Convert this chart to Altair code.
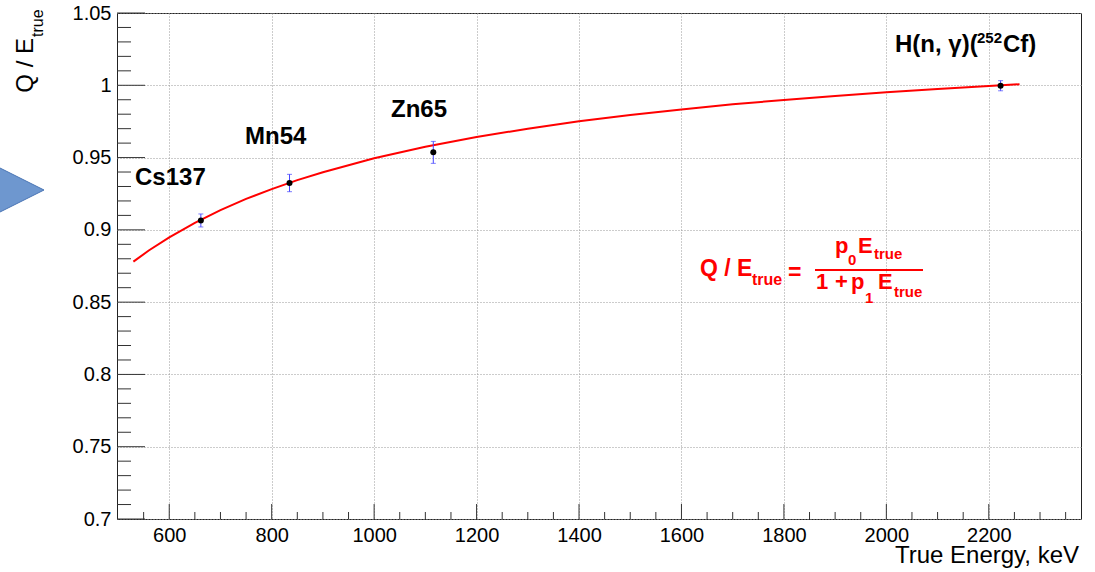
import altair as alt
import pandas as pd

# ---- data ----
point_names = ["Cs137", "Mn54", "Zn65", "H(n, γ)(252Cf)"]
point_energy = [661.7, 834.8, 1115.5, 2223.0]
point_value = [0.9065, 0.9324, 0.9536, 0.9997]
point_error = [0.0045, 0.0060, 0.0076, 0.0035]

curve_energy = [530, 560, 600, 650, 700, 750, 800, 850, 900, 1000, 1100, 1200,
                1300, 1400, 1500, 1600, 1700, 1800, 1900, 2000, 2100, 2200, 2260]
curve_value = [0.878, 0.8857, 0.8948, 0.9048, 0.9136, 0.9214, 0.9282, 0.9344,
               0.9399, 0.9495, 0.9575, 0.9642, 0.9700, 0.9751, 0.9795, 0.9833,
               0.9868, 0.9899, 0.9926, 0.9951, 0.9974, 0.9995, 1.0007]

x_major = [600, 800, 1000, 1200, 1400, 1600, 1800, 2000, 2200]
x_minor = [550, 650, 700, 750, 850, 900, 950, 1050, 1100, 1150, 1250, 1300, 1350,
           1450, 1500, 1550, 1650, 1700, 1750, 1850, 1900, 1950, 2050, 2100, 2150,
           2250, 2300, 2350]
y_major = [0.70, 0.75, 0.80, 0.85, 0.90, 0.95, 1.00, 1.05]
y_minor = [0.71, 0.72, 0.73, 0.74, 0.76, 0.77, 0.78, 0.79, 0.81, 0.82, 0.83, 0.84,
           0.86, 0.87, 0.88, 0.89, 0.91, 0.92, 0.93, 0.94, 0.96, 0.97, 0.98, 0.99,
           1.01, 1.02, 1.03, 1.04]

X_DOMAIN = [498, 2380]
Y_DOMAIN = [0.70, 1.05]
W, H = 964, 506
FONT = "Liberation Sans"
RED = "#ff0000"

xs = alt.Scale(domain=X_DOMAIN, nice=False, zero=False)
ys = alt.Scale(domain=Y_DOMAIN, nice=False, zero=False)

curve_df = pd.DataFrame({"E": curve_energy, "v": curve_value})
pts_df = pd.DataFrame({
    "name": point_names, "E": point_energy, "v": point_value,
    "lo": [v - e for v, e in zip(point_value, point_error)],
    "hi": [v + e for v, e in zip(point_value, point_error)],
})

curve = alt.Chart(curve_df).mark_line(color=RED, strokeWidth=2).encode(
    x=alt.X("E:Q", scale=xs, axis=alt.Axis(
        values=x_major, title=None, ticks=False, domain=False, format="d",
        labelFont=FONT, labelFontSize=20, labelColor="black", labelPadding=6,
        grid=True, gridDash=[1, 2], gridColor="#999999", gridWidth=1)),
    y=alt.Y("v:Q", scale=ys, axis=alt.Axis(
        values=y_major, title=None, ticks=False, domain=False,
        labelFont=FONT, labelFontSize=20, labelColor="black", labelPadding=6,
        labelExpr="datum.value == 1 ? '1' : format(datum.value, '.2~f')",
        grid=True, gridDash=[1, 2], gridColor="#999999", gridWidth=1)),
)

err = alt.Chart(pts_df).mark_rule(color="#4444ff", strokeWidth=1).encode(
    x=alt.X("E:Q", scale=xs), y=alt.Y("lo:Q", scale=ys), y2="hi:Q")
cap_lo = alt.Chart(pts_df).mark_tick(color="#4444ff", orient="horizontal", size=5, thickness=1).encode(
    x=alt.X("E:Q", scale=xs), y=alt.Y("lo:Q", scale=ys))
cap_hi = alt.Chart(pts_df).mark_tick(color="#4444ff", orient="horizontal", size=5, thickness=1).encode(
    x=alt.X("E:Q", scale=xs), y=alt.Y("hi:Q", scale=ys))
dots = alt.Chart(pts_df).mark_circle(color="black", size=36, opacity=1).encode(
    x=alt.X("E:Q", scale=xs), y=alt.Y("v:Q", scale=ys))

# inward ticks
def yticks(vals, length):
    return alt.Chart(pd.DataFrame({"t": vals})).mark_rule(color="#333333", strokeWidth=1).encode(
        y=alt.Y("t:Q", scale=ys), x=alt.value(0), x2=alt.value(length))

def xticks(vals, length):
    return alt.Chart(pd.DataFrame({"t": vals})).mark_rule(color="#333333", strokeWidth=1).encode(
        x=alt.X("t:Q", scale=xs), y=alt.value(H), y2=alt.value(H - length))

one = pd.DataFrame({"a": [0]})

def txt(s, x, y, size, bold=False, color="black", align="left", angle=0, baseline="alphabetic"):
    kw = dict(text=s, fontSize=size, font=FONT, color=color, align=align,
              baseline=baseline, fontWeight="bold" if bold else "normal")
    if angle:
        kw["angle"] = angle
    return alt.Chart(one).mark_text(**kw).encode(x=alt.value(x), y=alt.value(y))

OX, OY = 117, 13  # view origin in the picture

texts = [
    # point labels
    txt("Cs137", 135 - OX, 185 - OY, 24, bold=True),
    txt("Mn54", 245 - OX, 144 - OY, 24, bold=True),
    txt("Zn65", 391 - OX, 117 - OY, 24, bold=True),
    txt("H(n, γ)(", 895 - OX, 52 - OY, 24, bold=True),
    txt("252", 977 - OX, 43 - OY, 15, bold=True),
    txt("Cf)", 1003 - OX, 52 - OY, 24, bold=True),
    # axis titles
    txt("True Energy, keV", 1079 - OX, 563 - OY, 24, align="right"),
    txt("Q / E", 33 - OX, 38 - OY, 24, align="right", angle=270),
    txt("true", 43 - OX, 37 - OY, 16, align="left", angle=270),
    # formula
    txt("Q / E", 700 - OX, 276 - OY, 23, bold=True, color=RED),
    txt("true", 752 - OX, 285 - OY, 16, bold=True, color=RED),
    txt("=", 788 - OX, 280 - OY, 23, bold=True, color=RED),
    txt("p", 835 - OX, 253 - OY, 22, bold=True, color=RED),
    txt("0", 848 - OX, 265 - OY, 15, bold=True, color=RED),
    txt("E", 858 - OX, 253 - OY, 22, bold=True, color=RED),
    txt("true", 874 - OX, 259 - OY, 15, bold=True, color=RED),
    txt("1", 816 - OX, 289 - OY, 22, bold=True, color=RED),
    txt("+", 835 - OX, 289 - OY, 22, bold=True, color=RED),
    txt("p", 851 - OX, 289 - OY, 22, bold=True, color=RED),
    txt("1", 865 - OX, 303 - OY, 15, bold=True, color=RED),
    txt("E", 878 - OX, 289 - OY, 22, bold=True, color=RED),
    txt("true", 894 - OX, 297 - OY, 15, bold=True, color=RED),
]

frac_line = alt.Chart(one).mark_rule(color=RED, strokeWidth=2).encode(
    x=alt.value(815 - OX), x2=alt.value(923 - OX), y=alt.value(270 - OY))

triangle = alt.Chart(one).mark_point(
    shape="M -1 -1 L 1 0 L -1 1 Z", filled=True, fill="#6e97cf", stroke="#4a74b4",
    strokeWidth=1, opacity=1, size=58 * 58).encode(
    x=alt.value(15 - OX), y=alt.value(190 - OY))

chart = alt.layer(
    curve, err, cap_lo, cap_hi, dots,
    yticks(y_major, 28), yticks(y_minor, 14),
    xticks(x_major, 15), xticks(x_minor, 7),
    frac_line, triangle, *texts,
).properties(
    width=W, height=H,
    padding={"left": OX, "top": OY, "right": 1095 - OX - W, "bottom": 572 - OY - H},
    autosize=alt.AutoSizeParams(type="none"),
    background="white",
).configure_view(stroke="#222222", strokeWidth=1)

chart.save("out.html", embed_options={"renderer": "svg", "actions": False})
